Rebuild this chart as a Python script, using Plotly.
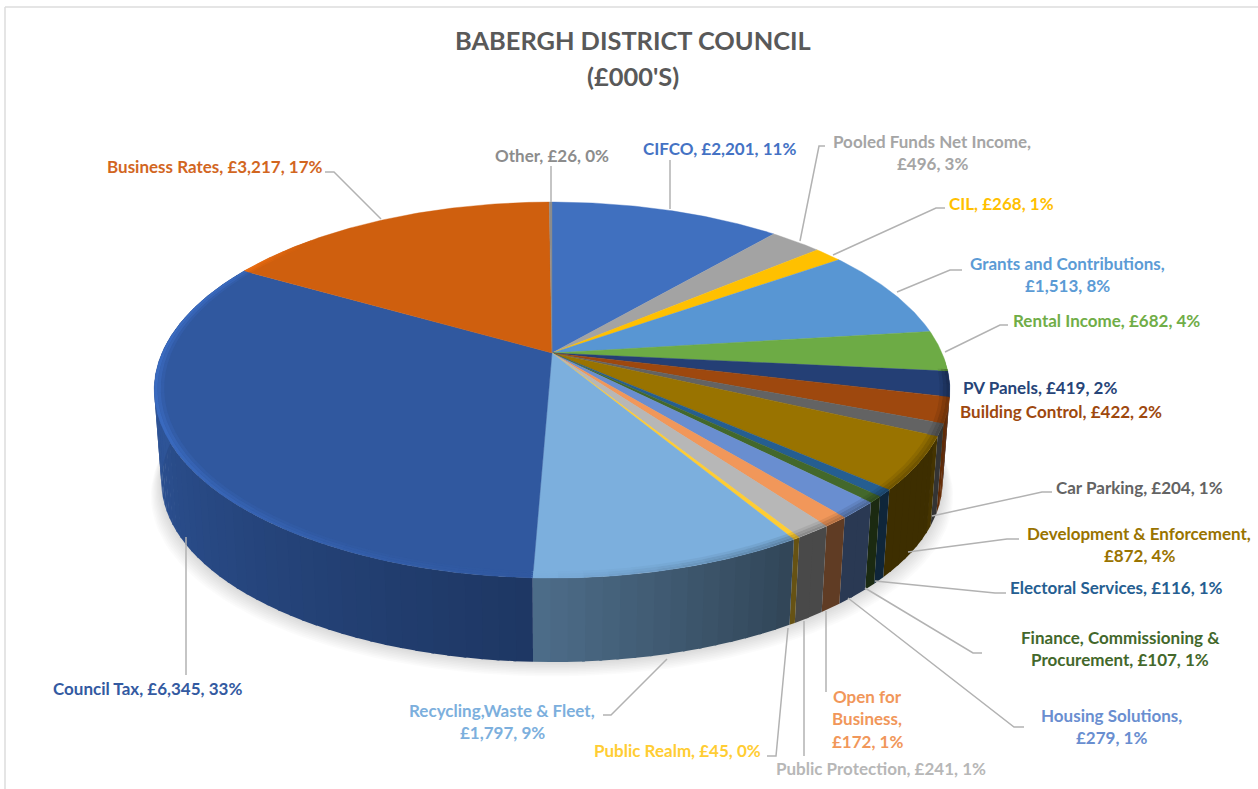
import numpy as np
import plotly.graph_objects as go

# ---- data -----
categories = ["CIFCO", "Pooled Funds Net Income", "CIL", "Grants and Contributions", "Rental Income",
              "PV Panels", "Building Control", "Car Parking", "Development & Enforcement",
              "Electoral Services", "Finance, Commissioning & Procurement", "Housing Solutions",
              "Open for Business", "Public Protection", "Public Realm", "Recycling,Waste & Fleet",
              "Council Tax", "Business Rates", "Other"]
values = [2201, 496, 268, 1513, 682, 419, 422, 204, 872, 116, 107, 279, 172, 241, 45, 1797, 6345, 3217, 26]
colors = ["#4070BF", "#A3A3A3", "#FFC000", "#5896D3", "#6DAB45", "#243F75", "#9E480E", "#636363", "#997300",
          "#255E91", "#43682B", "#698ED0", "#F1975A", "#B7B7B7", "#FFCD33", "#7CAFDD", "#30589F", "#CF5F0E", "#8C8C8C"]
text_colors = ["#4472C4", "#A5A5A5", "#FFC000", "#5B9BD5", "#70AD47", "#264478", "#9E480E", "#636363", "#997300",
               "#255E91", "#43682B", "#698ED0", "#F1975A", "#B7B7B7", "#FFCD33", "#7CAFDD", "#335AA1", "#D2661F", "#8C8C8C"]
title_lines = ["BABERGH DISTRICT COUNCIL", "(£000'S)"]
line_breaks = {"Pooled Funds Net Income": ["Income,"], "Grants and Contributions": ["Contributions,"],
               "Development & Enforcement": ["Enforcement,"],
               "Finance, Commissioning & Procurement": ["&"], "Housing Solutions": ["Solutions,"],
               "Open for Business": ["for", "Business,"], "Recycling,Waste & Fleet": ["Fleet,"]}

# ---- layout of labels (pixel positions on the chart canvas) ----
label_x = [719, 932, 1001, 1067, 1106, 1040, 1061, 1139, 1139, 1116, 1120, 1111, 867, 881, 677, 502, 147, 214, 552]
label_y = [148, 141, 203, 263, 320, 387, 411, 487, 533, 587, 637, 715, 696, 768, 750, 710, 688, 166, 155]
line_gap = 22.7
leaders = {
    "CIFCO": [(670, 160), (670, 209)],
    "Pooled Funds Net Income": [(825, 146), (819, 146), (800, 241)],
    "CIL": [(945, 208), (936, 208), (833, 255)],
    "Grants and Contributions": [(962, 270), (950, 270), (897, 292)],
    "Rental Income": [(1008, 325), (1000, 325), (945, 352)],
    "Car Parking": [(1052, 492), (1042, 492), (932, 516)],
    "Development & Enforcement": [(1019, 539), (1007, 539), (908, 552)],
    "Electoral Services": [(1006, 593), (995, 593), (875, 581)],
    "Finance, Commissioning & Procurement": [(982, 653), (973, 653), (865, 588)],
    "Housing Solutions": [(1024, 727), (1014, 727), (848, 598)],
    "Open for Business": [(826, 692), (826, 611)],
    "Public Protection": [(804, 756), (804, 621)],
    "Public Realm": [(767, 756), (776, 756), (788, 628)],
    "Recycling,Waste & Fleet": [(603, 715), (611, 715), (667, 659)],
    "Council Tax": [(186, 675), (186, 537)],
    "Business Rates": [(325, 172), (334, 172), (381, 219)],
    "Other": [(551, 166), (551, 202)],
}

# ---- projection of the pie disc ----
CX, CY = 552.0, 353.0
K, M, P = 390.0, 180.7, 0.197
VY, SX, SY = 2678.0, 0.982, 0.96
FONT = "Lato"


def top(theta, r=1.0):
    x, y = r * np.sin(theta), -r * np.cos(theta)
    w = 1 - P * y
    return CX + K * x / w, CY + M * y / w


def bottom(theta, r=1.0):
    sx, sy = top(theta, r)
    return CX + (sx - CX) * SX, VY + (sy - VY) * SY


def shade(col, f):
    rgb = [int(col[i:i + 2], 16) for i in (1, 3, 5)]
    return "#%02x%02x%02x" % tuple(min(255, int(round(c * f))) for c in rgb)


def poly(fig, xs, ys, color, lw=0.7):
    fig.add_trace(go.Scatter(x=list(xs), y=list(ys), mode="lines", fill="toself", fillcolor=color,
                             line=dict(color=color, width=lw), hoverinfo="skip", showlegend=False))


wall_a = [95, 108, 114, 118, 150, 181.9, 225, 265, 300]
wall_f = [.70, .65, .50, .40, .40, .62, .80, .95, .95]
rim_a = [95, 150, 182, 215, 245, 295, 315]
rim_f = [.72, .76, 1.0, 1.1, 1.2, 1.2, 1.0]

total = sum(values)
edges = np.radians(np.concatenate([[0], np.cumsum(values) / total * 360]))
VIS0, VIS1 = np.radians(92), np.radians(300)

fig = go.Figure()

# soft shadow under the pie
th = np.linspace(0, 2 * np.pi, 181)
for i in range(9, 0, -1):
    sh = 1 + i * 0.003
    bx, by = bottom(th)
    poly(fig, CX + (bx - CX) * sh, by + i * 1.6, "rgba(0,0,0,0.014)", 0)

# side wall, cut into narrow quads (each slightly overlapping the next) so that it carries a gradient
for a0, a1, col in zip(edges[:-1], edges[1:], colors):
    lo, hi = max(a0, VIS0), min(a1, VIS1)
    if hi <= lo:
        continue
    n = max(1, int(np.degrees(hi - lo) / 2.0))
    grid = np.linspace(lo, hi, n + 1)
    overlap = np.radians(0.35)
    for k, (t0, t1) in enumerate(zip(grid[:-1], grid[1:])):
        seg = np.linspace(t0, t1 + (overlap if k < n - 1 else 0), 4)
        xt, yt = top(seg)
        xb, yb = bottom(seg[::-1])
        f = np.interp(np.degrees((t0 + t1) / 2), wall_a, wall_f)
        poly(fig, np.r_[xt, xb, xt[0]], np.r_[yt, yb, yt[0]], shade(col, f), 0)

# top face sectors
for a0, a1, col in zip(edges[:-1], edges[1:], colors):
    seg = np.linspace(a0, a1, max(3, int(np.degrees(a1 - a0) * 2)))
    x, y = top(seg)
    poly(fig, np.r_[CX, x, CX], np.r_[CY, y, CY], col, 0.4)

# bevel along the front rim
for a0, a1, col in zip(edges[:-1], edges[1:], colors):
    lo, hi = max(a0, np.radians(95)), min(a1, np.radians(315))
    if hi <= lo:
        continue
    n = max(1, int(np.degrees(hi - lo) / 3))
    grid = np.linspace(lo, hi, n + 1)
    for t0, t1 in zip(grid[:-1], grid[1:]):
        f = np.interp(np.degrees((t0 + t1) / 2), rim_a, rim_f)
        seg = np.linspace(t0, t1 + np.radians(0.2), 3)
        for r0, r1, g in ((.976, .984, 1 + (f - 1) * .3), (.984, .992, 1 + (f - 1) * .7), (.992, 1.0, f)):
            xa, ya = top(seg, r0)
            xc, yc = top(seg[::-1], r1)
            poly(fig, np.r_[xa, xc, xa[0]], np.r_[ya, yc, ya[0]], shade(col, g), 0)

# leader lines
for pts in leaders.values():
    fig.add_trace(go.Scatter(x=[p[0] for p in pts], y=[p[1] for p in pts], mode="lines",
                             line=dict(color="#B2B2B2", width=1.5), hoverinfo="skip", showlegend=False))

# data labels (each line is placed by itself to keep the reference's line spacing)
annotations = []
for cat, val, tc, lx, ly in zip(categories, values, text_colors, label_x, label_y):
    text = f"{cat}, £{val:,}, {round(val / total * 100)}%"
    for frag in line_breaks.get(cat, []):
        text = text.replace(frag + " ", frag + "\n")
    for j, line in enumerate(text.split("\n")):
        annotations.append(dict(x=lx, y=ly + j * line_gap, text=f"<b>{line}</b>", showarrow=False,
                                xanchor="center", yanchor="middle", font=dict(family=FONT, size=17, color=tc)))

# title
for j, line in enumerate(title_lines):
    annotations.append(dict(x=633, y=40 + j * 36, text=f"<b>{line}</b>", showarrow=False, xanchor="center",
                            yanchor="middle", font=dict(family=FONT, size=25.4, color="#595959")))

fig.update_layout(
    width=1258, height=789, margin=dict(l=0, r=0, t=0, b=0),
    paper_bgcolor="white", plot_bgcolor="white", showlegend=False,
    xaxis=dict(range=[0, 1258], visible=False, fixedrange=True),
    yaxis=dict(range=[789, 0], visible=False, fixedrange=True),
    annotations=annotations,
    shapes=[dict(type="line", x0=5, x1=5, y0=7, y1=789, line=dict(color="#DCDCDC", width=1.5)),
            dict(type="line", x0=5, x1=1258, y0=7, y1=7, line=dict(color="#DCDCDC", width=1.5))],
)
fig.write_html("out.html", config={"displayModeBar": False},
               post_script="document.body.style.margin='0';document.body.style.overflow='hidden';")
